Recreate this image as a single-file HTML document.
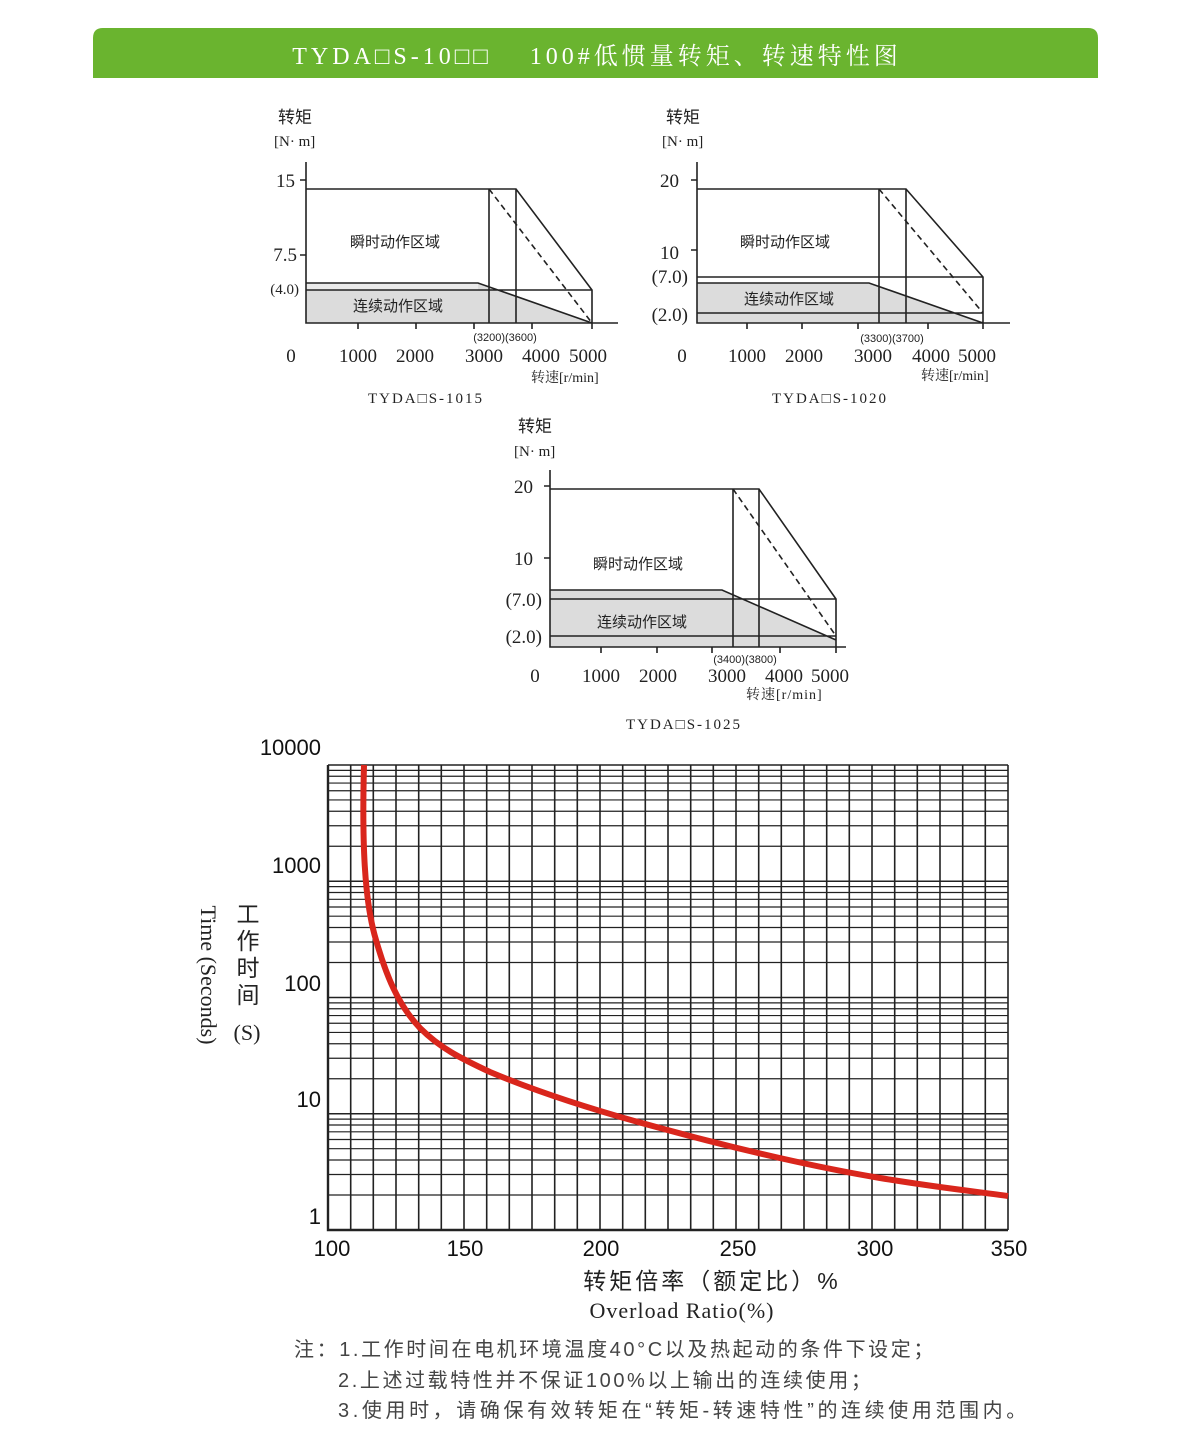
<!DOCTYPE html>
<html><head><meta charset="utf-8"><style>
html,body{margin:0;padding:0;background:#fff;}
svg{display:block;}
.s{font-family:"Liberation Serif","Noto Serif CJK SC",serif;}
.c{font-family:"Liberation Sans","Noto Sans CJK SC",sans-serif;}
</style></head><body>
<svg width="1200" height="1451" viewBox="0 0 1200 1451" xmlns="http://www.w3.org/2000/svg">
<path d="M93,78 V38 Q93,28 103,28 H1088 Q1098,28 1098,38 V78 Z" fill="#6ab42f"/>
<text x="597" y="64" text-anchor="middle" fill="#fff" font-size="24" class="s" letter-spacing="4">TYDA□S-10□□　 100#低惯量转矩、转速特性图</text>

<g stroke="#222" stroke-width="1.6" fill="none">
<polygon points="306,283 478,283 592,323 306,323" fill="#dcdcdc" stroke="none"/>
<rect x="306" y="283" width="172" height="7" fill="#eaeaea" stroke="none"/>
<path d="M306,162 V323 H618"/>
<path d="M300,180 H306 M300,255 H306"/>
<path d="M358,323 V329 M416,323 V329 M474,323 V329 M532,323 V329 M592,323 V329"/>
<path d="M306,189 H516 L592,290 V323 M489,189 V323 M516,189 V323 M306,283 H478 L592,323 M306,290 H592"/>
<path d="M489,189 L592,323" stroke-dasharray="6,4"/>
<polygon points="697,283 869,283 983,323 697,323" fill="#dcdcdc" stroke="none"/>
<path d="M697,162 V323 H1010"/>
<path d="M691,180 H697 M691,250 H697"/>
<path d="M747,323 V329 M802,323 V329 M858,323 V329 M928,323 V329 M983,323 V329"/>
<path d="M697,189 H906 L983,277 V323 M879,189 V323 M906,189 V323 M697,277 H983 M697,283 H869 L983,323 M697,313 H983"/>
<path d="M879,189 L983,313" stroke-dasharray="6,4"/>
<polygon points="550,590 722,590 836,640 836,647 550,647" fill="#dcdcdc" stroke="none"/>
<path d="M550,470 V647 H846"/>
<path d="M544,486 H550 M544,558 H550"/>
<path d="M601,647 V653 M657,647 V653 M712,647 V653 M780,647 V653 M836,647 V653"/>
<path d="M550,489 H759 L836,599 V647 M733,489 V647 M759,489 V647 M550,599 H836 M550,590 H722 L836,640 M550,636 H836"/>
<path d="M733,489 L836,636" stroke-dasharray="6,4"/>
</g>

<g class="s" fill="#222" font-size="19">
<text x="278" y="123" class="c" font-size="17">转矩</text>
<text x="274" y="146" font-size="15">[N· m]</text>
<text x="295" y="187" text-anchor="end">15</text>
<text x="297" y="261" text-anchor="end">7.5</text>
<text x="299" y="294" text-anchor="end" font-size="15">(4.0)</text>
<text x="395" y="247" text-anchor="middle" class="c" font-size="15">瞬时动作区域</text>
<text x="398" y="311" text-anchor="middle" class="c" font-size="15">连续动作区域</text>
<text x="505" y="341" text-anchor="middle" class="c" font-size="11">(3200)(3600)</text>
<text x="291" y="362" text-anchor="middle">0</text>
<text x="358" y="362" text-anchor="middle">1000</text>
<text x="415" y="362" text-anchor="middle">2000</text>
<text x="484" y="362" text-anchor="middle">3000</text>
<text x="541" y="362" text-anchor="middle">4000</text>
<text x="588" y="362" text-anchor="middle">5000</text>
<text x="531" y="382" font-size="14">转速[r/min]</text>
<text x="426" y="403" text-anchor="middle" font-size="15" letter-spacing="2">TYDA□S-1015</text>
<text x="666" y="123" class="c" font-size="17">转矩</text>
<text x="662" y="146" font-size="15">[N· m]</text>
<text x="679" y="187" text-anchor="end">20</text>
<text x="679" y="259" text-anchor="end">10</text>
<text x="688" y="283" text-anchor="end">(7.0)</text>
<text x="688" y="321" text-anchor="end">(2.0)</text>
<text x="785" y="247" text-anchor="middle" class="c" font-size="15">瞬时动作区域</text>
<text x="789" y="304" text-anchor="middle" class="c" font-size="15">连续动作区域</text>
<text x="892" y="342" text-anchor="middle" class="c" font-size="11">(3300)(3700)</text>
<text x="682" y="362" text-anchor="middle">0</text>
<text x="747" y="362" text-anchor="middle">1000</text>
<text x="804" y="362" text-anchor="middle">2000</text>
<text x="873" y="362" text-anchor="middle">3000</text>
<text x="931" y="362" text-anchor="middle">4000</text>
<text x="977" y="362" text-anchor="middle">5000</text>
<text x="921" y="380" font-size="14">转速[r/min]</text>
<text x="830" y="403" text-anchor="middle" font-size="15" letter-spacing="2">TYDA□S-1020</text>
<text x="518" y="432" class="c" font-size="17">转矩</text>
<text x="514" y="456" font-size="15">[N· m]</text>
<text x="533" y="493" text-anchor="end">20</text>
<text x="533" y="565" text-anchor="end">10</text>
<text x="542" y="606" text-anchor="end">(7.0)</text>
<text x="542" y="643" text-anchor="end">(2.0)</text>
<text x="638" y="569" text-anchor="middle" class="c" font-size="15">瞬时动作区域</text>
<text x="642" y="627" text-anchor="middle" class="c" font-size="15">连续动作区域</text>
<text x="745" y="663" text-anchor="middle" class="c" font-size="11">(3400)(3800)</text>
<text x="535" y="682" text-anchor="middle">0</text>
<text x="601" y="682" text-anchor="middle">1000</text>
<text x="658" y="682" text-anchor="middle">2000</text>
<text x="727" y="682" text-anchor="middle">3000</text>
<text x="784" y="682" text-anchor="middle">4000</text>
<text x="830" y="682" text-anchor="middle">5000</text>
<text x="746" y="699" font-size="14" letter-spacing="1">转速[r/min]</text>
<text x="684" y="729" text-anchor="middle" font-size="15" letter-spacing="2">TYDA□S-1025</text>
</g>

<g stroke="#222" stroke-width="1.6" fill="none">
<path d="M328,765 H1008 M328,881.25 H1008 M328,997.5 H1008 M328,1113.75 H1008 M328,1230 H1008"/>
<path stroke-width="1.2" d="M328,1195 H1008 M328,1174.5 H1008 M328,1160 H1008 M328,1148.7 H1008 M328,1139.5 H1008 M328,1131.8 H1008 M328,1125 H1008 M328,1119.1 H1008
M328,1078.75 H1008 M328,1058.25 H1008 M328,1043.75 H1008 M328,1032.45 H1008 M328,1023.25 H1008 M328,1015.55 H1008 M328,1008.75 H1008 M328,1002.85 H1008
M328,962.5 H1008 M328,942 H1008 M328,927.5 H1008 M328,916.2 H1008 M328,907 H1008 M328,899.3 H1008 M328,892.5 H1008 M328,886.6 H1008
M328,846.25 H1008 M328,825.75 H1008 M328,811.25 H1008 M328,799.95 H1008 M328,790.75 H1008 M328,783.05 H1008 M328,776.25 H1008 M328,770.35 H1008"/>
<path d="M328,765 V1230 M350.7,765 V1230 M373.3,765 V1230 M396,765 V1230 M418.7,765 V1230 M441.3,765 V1230 M464,765 V1230 M486.7,765 V1230 M509.3,765 V1230 M532,765 V1230 M554.7,765 V1230 M577.3,765 V1230 M600,765 V1230 M622.7,765 V1230 M645.3,765 V1230 M668,765 V1230 M690.7,765 V1230 M713.3,765 V1230 M736,765 V1230 M758.7,765 V1230 M781.3,765 V1230 M804,765 V1230 M826.7,765 V1230 M849.3,765 V1230 M872,765 V1230 M894.7,765 V1230 M917.3,765 V1230 M940,765 V1230 M962.7,765 V1230 M985.3,765 V1230 M1008,765 V1230"/>
<path d="M328,765 V1230 H1008" stroke-width="2.4"/>
</g>
<path d="M364,765 C362,840 364,900 376,940 C386,975 398,1005 420,1028 C440,1048 460,1058 490,1072 C540,1093 600,1112 660,1128 C740,1150 820,1168 880,1178 C940,1188 980,1192 1008,1196" fill="none" stroke="#d9261c" stroke-width="6"/>

<g class="c" fill="#111" font-size="22">
<text x="321" y="755" text-anchor="end">10000</text>
<text x="321" y="873" text-anchor="end">1000</text>
<text x="321" y="991" text-anchor="end">100</text>
<text x="321" y="1107" text-anchor="end">10</text>
<text x="321" y="1224" text-anchor="end">1</text>
<text x="332" y="1256" text-anchor="middle">100</text>
<text x="465" y="1256" text-anchor="middle">150</text>
<text x="601" y="1256" text-anchor="middle">200</text>
<text x="738" y="1256" text-anchor="middle">250</text>
<text x="875" y="1256" text-anchor="middle">300</text>
<text x="1009" y="1256" text-anchor="middle">350</text>
</g>
<g class="s" fill="#222">
<text transform="translate(201,975) rotate(90)" text-anchor="middle" font-size="22">Time (Seconds)</text>
<text x="248" y="922" text-anchor="middle" font-size="23" class="c">工</text>
<text x="248" y="949" text-anchor="middle" font-size="23" class="c">作</text>
<text x="248" y="976" text-anchor="middle" font-size="23" class="c">时</text>
<text x="248" y="1003" text-anchor="middle" font-size="23" class="c">间</text>
<text x="247" y="1040" text-anchor="middle" font-size="22">(S)</text>
<text x="712" y="1289" text-anchor="middle" font-size="23" class="c" letter-spacing="3">转矩倍率（额定比）%</text>
<text x="682" y="1318" text-anchor="middle" font-size="22" letter-spacing="1">Overload Ratio(%)</text>
</g>
<g class="c" fill="#444" font-size="20">
<text x="294" y="1356" letter-spacing="2.6">注：1.工作时间在电机环境温度40°C以及热起动的条件下设定；</text>
<text x="338" y="1387" letter-spacing="2.6">2.上述过载特性并不保证100%以上输出的连续使用；</text>
<text x="338" y="1417" letter-spacing="3.6">3.使用时，请确保有效转矩在“转矩-转速特性”的连续使用范围内。</text>
</g>
</svg>
</body></html>
